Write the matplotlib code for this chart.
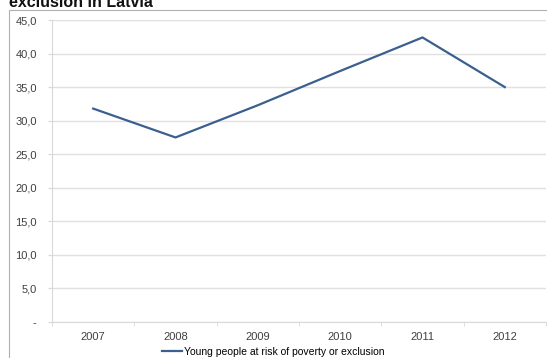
import matplotlib
matplotlib.use("Agg")
import matplotlib.pyplot as plt
from matplotlib.patches import Rectangle
from matplotlib.ticker import FuncFormatter

plt.rcParams['font.family'] = ['Liberation Sans', 'DejaVu Sans']

years = ["2007", "2008", "2009", "2010", "2011", "2012"]
young_risk = [31.8, 27.5, 32.3, 37.4, 42.4, 35.0]
series_label = "Young people at risk of poverty or exclusion"
title = "exclusion in Latvia"

W, H = 547, 358
fig = plt.figure(figsize=(W / 100, H / 100), dpi=100)

# outer chart border (cut off at right and bottom)
fig.add_artist(Rectangle((9 / W, -0.1), 1.2, 1 - 10 / H + 0.1,
                         transform=fig.transFigure, fill=False,
                         edgecolor="#b0b0b0", linewidth=0.8))
fig.text(9 / W, 1 - 7 / H, title, fontsize=11.5, fontweight="bold",
         ha="left", va="baseline", color="#111111")

ax = fig.add_axes([52 / W, 1 - 322 / H, 494 / W, 302 / H])
x = list(range(len(years)))
ax.plot(x, young_risk, color="#3b5f8f", linewidth=1.6, label=series_label)

ax.set_xlim(-0.5, len(years) - 0.5)
ax.set_ylim(0, 45)
ax.set_yticks([0, 5, 10, 15, 20, 25, 30, 35, 40, 45])
ax.yaxis.set_major_formatter(FuncFormatter(
    lambda v, p: "-" if v == 0 else f"{v:.1f}".replace(".", ",")))
ax.set_xticks(x)
ax.set_xticklabels(years)
ax.set_xticks([i - 0.5 for i in range(len(years) + 1)], minor=True)

ax.grid(axis="y", color="#e0e0e0", linewidth=1.0)
ax.set_axisbelow(True)
for s in ["top", "right"]:
    ax.spines[s].set_visible(False)
ax.spines["left"].set_color("#d9d9d9")
ax.spines["bottom"].set_color("#d9d9d9")

ax.tick_params(axis="y", length=3, color="#d9d9d9", labelsize=8,
               labelcolor="#404040", pad=8)
ax.tick_params(axis="x", which="major", length=0, labelsize=8,
               labelcolor="#404040", pad=7)
ax.tick_params(axis="x", which="minor", length=3, color="#d9d9d9")

fig.legend(loc="center", bbox_to_anchor=(273 / W, 1 - 352 / H),
           frameon=False, fontsize=7.5, handlelength=2.0,
           handletextpad=0.15, borderpad=0, borderaxespad=0)

fig.savefig("out.png", dpi=100)
